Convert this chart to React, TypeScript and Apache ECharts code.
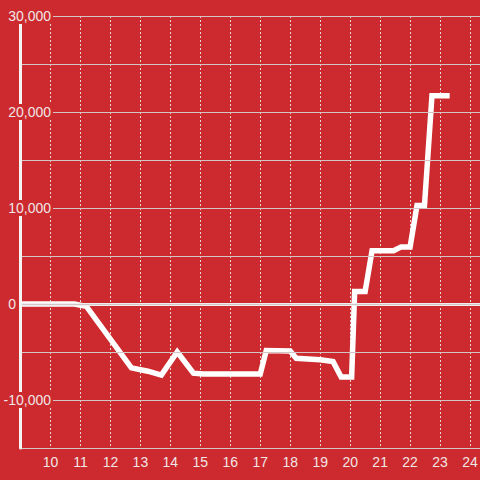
import React, { useEffect, useRef } from "react";
import * as echarts from "echarts";

const xValues = [9.0, 10.8, 11.2, 12.7, 13.25, 13.7, 14.23, 14.77, 15.1, 17.0, 17.2, 18.0, 18.2, 19.0, 19.43, 19.7, 20.05, 20.15, 20.5, 20.73, 21.45, 21.7, 22.0, 22.23, 22.48, 22.73, 23.32];
const yValues = [0, 0, -250, -6650, -7000, -7400, -5000, -7200, -7300, -7300, -4850, -4900, -5650, -5800, -6000, -7600, -7600, 1300, 1300, 5550, 5550, 5950, 5950, 10250, 10250, 21700, 21700];
const yLabelValues = [-10000, 0, 10000, 20000, 30000];

const BG = "#cc2a2e";
const TEXT = "#f0e6e6";
const FONT = "'Liberation Sans', Arial, sans-serif";

export default function App() {
  const ref = useRef<HTMLDivElement>(null);
  useEffect(() => {
    const chart = echarts.init(ref.current!, null, { renderer: "svg" });
    const data = xValues.map((x, i) => [x, yValues[i]]);
    chart.setOption({
      animation: false,
      backgroundColor: BG,
      textStyle: { fontFamily: FONT },
      grid: { left: 20.5, right: -20, top: 16, bottom: 32, containLabel: false, outerBoundsMode: "none" },
      xAxis: {
        type: "value",
        min: 9,
        max: 25,
        interval: 1,
        axisLine: { show: false, onZero: false },
        axisTick: { show: false },
        axisLabel: {
          color: TEXT,
          fontSize: 14,
          fontFamily: FONT,
          margin: 7,
          formatter: (v: number) => (v >= 10 && v <= 24 ? String(v) : ""),
        },
        splitLine: { show: true, lineStyle: { color: "#e6d6d6", width: 1, type: [2, 2] } },
      },
      yAxis: {
        type: "value",
        min: -15000,
        max: 30000,
        interval: 5000,
        z: 10,
        axisLine: { show: true, lineStyle: { color: "#f4f4f4", width: 3 } },
        axisTick: { show: false },
        axisLabel: {
          margin: -32.5,
          formatter: (v: number) => {
            if (yLabelValues.indexOf(v) < 0) return "";
            if (v === 0) return "{b|0}";
            return "{a|" + v.toLocaleString("en-US") + "}";
          },
          rich: {
            a: {
              color: TEXT,
              fontSize: 14,
              fontFamily: FONT,
              backgroundColor: BG,
              padding: [1, 2, 1, 4],
            },
            b: {
              color: TEXT,
              fontSize: 14,
              fontFamily: FONT,
              padding: [1, 37, 1, 0],
            },
          },
        },
        splitLine: { show: true, lineStyle: { color: "#d4c4c4", width: 1 } },
      },
      series: [
        {
          type: "line",
          data,
          symbol: "none",
          z: 3,
          lineStyle: { color: "#ffffff", width: 5.5, cap: "butt", join: "miter" },
          markLine: {
            silent: true,
            symbol: "none",
            label: { show: false },
            lineStyle: { color: "#f0eeee", width: 3, type: "solid" },
            data: [{ yAxis: 0 }],
          },
        },
      ],
    });
    return () => chart.dispose();
  }, []);
  return <div ref={ref} style={{ width: 480, height: 480, position: "absolute", left: 0, top: 0 }} />;
}
